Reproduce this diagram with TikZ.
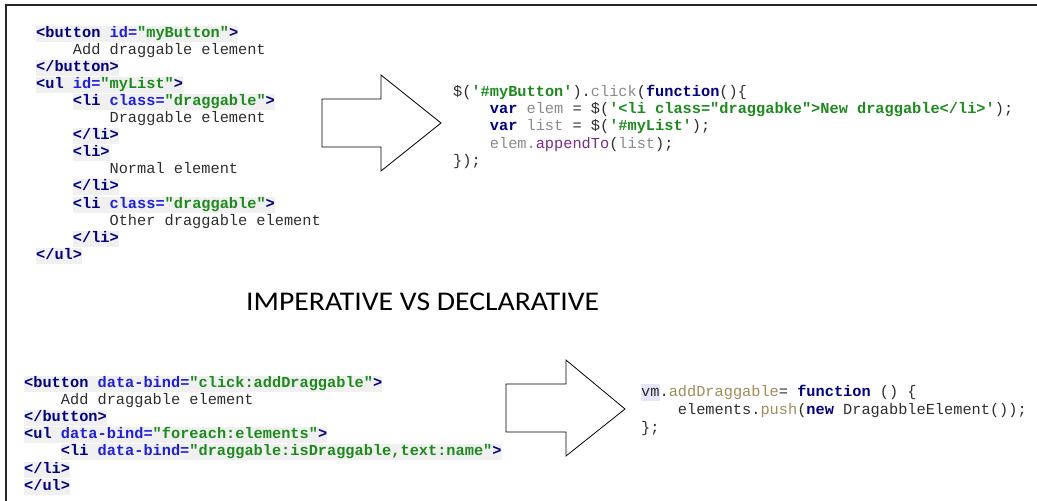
\documentclass[tikz,border=0pt]{standalone}
\usepackage{fontspec}
\setmonofont{Liberation Mono}
\newfontfamily\titlefont{Carlito}
\usetikzlibrary{positioning}
\definecolor{tagblue}{HTML}{000080}
\definecolor{attblue}{HTML}{2020D8}
\definecolor{strgreen}{HTML}{1E8A1E}
\definecolor{plaingray}{HTML}{2E2E2E}
\definecolor{vargray}{HTML}{8A8A8A}
\definecolor{fnpurple}{HTML}{7A2A8A}
\definecolor{memtan}{HTML}{A08C5A}
\definecolor{codebg}{HTML}{F0F0F0}
\definecolor{vmbg}{HTML}{E6E6FA}
\newcommand\mkTag[1]{\textcolor{tagblue}{\bfseries #1}}
\newcommand\mkAtt[1]{\textcolor{attblue}{\bfseries #1}}
\newcommand\mkStr[1]{\textcolor{strgreen}{\bfseries #1}}
\newcommand\mkKw[1]{\textcolor{tagblue}{\bfseries #1}}
\newcommand\mkVar[1]{\textcolor{vargray}{#1}}
\newcommand\mkFn[1]{\textcolor{fnpurple}{#1}}
\newcommand\mkMem[1]{\textcolor{memtan}{#1}}
\newcommand\mkHl[1]{{\setlength{\fboxsep}{0pt}\colorbox{vmbg}{\strut #1}}}
\tikzset{code/.style={anchor=base west, inner sep=0pt, text=plaingray,
                      font=\ttfamily\fontsize{15.3}{17}\selectfont},
         hl/.style={code, fill=codebg, inner ysep=1pt, text height=10.5pt, text depth=3.5pt},
         bigarrow/.style={draw=black, line width=0.8pt, line join=miter},
         frame/.style={draw=black!85, line width=2pt},
        }

\begin{document}
\begin{tikzpicture}[x=1pt,y=-1pt]
        \useasboundingbox (0,0) rectangle (1037,501);
        \draw[frame] (6,501)--(6,5)--(1037,5);

        % imperative markup
        \node[hl](a1)at(36,37){\mkTag{<button} \mkAtt{id=}\mkStr{"myButton"}\mkTag{>}};
        \node[code](a2)at(72.7,54.1){Add draggable element};
        \node[hl](a3)at(36,71.2){\mkTag{</button>}};
        \node[hl](a4)at(36,88.3){\mkTag{<ul} \mkAtt{id=}\mkStr{"myList"}\mkTag{>}};
        \node[hl](a5)at(72.7,105.4){\mkTag{<li} \mkAtt{class=}\mkStr{"draggable"}\mkTag{>}};
        \node[code](a6)at(109.4,122.5){Draggable element};
        \node[hl](a7)at(72.7,139.6){\mkTag{</li>}};
        \node[hl](a8)at(72.7,156.7){\mkTag{<li>}};
        \node[code](a9)at(109.4,173.8){Normal element};
        \node[hl](a10)at(72.7,190.9){\mkTag{</li>}};
        \node[hl](a11)at(72.7,208){\mkTag{<li} \mkAtt{class=}\mkStr{"draggable"}\mkTag{>}};
        \node[code](a12)at(109.4,225.1){Other draggable element};
        \node[hl](a13)at(72.7,242.2){\mkTag{</li>}};
        \node[hl](a14)at(36,259.3){\mkTag{</ul>}};

        % imperative script
        \node[code](b1)at(453,96.7){\$(\mkStr{'\#myButton'}).\mkVar{click}(\mkKw{function}()\{};
        \node[code](b2)at(489.7,113.8){\mkKw{var} \mkVar{elem} = \$(\mkStr{'<li class="draggabke">New draggable</li>'});};
        \node[code](b3)at(489.7,130.9){\mkKw{var} \mkVar{list} = \$(\mkStr{'\#myList'});};
        \node[code](b4)at(489.7,148){\mkVar{elem.}\mkFn{appendTo}(\mkVar{list});};
        \node[code](b5)at(453,165.1){\});};

        \draw[bigarrow](322,99)--(381,99)--(381,75)--(441,123)--(381,171)--(381,147)--(322,147)--cycle;

        \node[anchor=base west, inner sep=0pt, font=\titlefont\fontsize{27}{30}\selectfont](title)at(246,310.7){\scalebox{1.1}[1]{IMPERATIVE VS DECLARATIVE}};

        % declarative markup
        \node[hl](c1)at(24,387){\mkTag{<button} \mkAtt{data-bind=}\mkStr{"click:addDraggable"}\mkTag{>}};
        \node[code](c2)at(60.7,404.2){Add draggable element};
        \node[hl](c3)at(24,421.4){\mkTag{</button>}};
        \node[hl](c4)at(24,438.6){\mkTag{<ul} \mkAtt{data-bind=}\mkStr{"foreach:elements"}\mkTag{>}};
        \node[hl](c5)at(60.7,455.8){\mkTag{<li} \mkAtt{data-bind=}\mkStr{"draggable:isDraggable,text:name"}\mkTag{>}};
        \node[hl](c6)at(24,473){\mkTag{</li>}};
        \node[hl](c7)at(24,490.2){\mkTag{</ul>}};

        % declarative view model
        \node[code](d1)at(641,396){\mkHl{vm}.\mkMem{addDraggable}= \mkKw{function} () \{};
        \node[code](d2)at(677.7,414){elements.\mkMem{push}(\mkKw{new} DragabbleElement());};
        \node[code](d3)at(641,432){\};};

        \draw[bigarrow](506,384)--(566,384)--(566,360)--(625,409)--(566,456)--(566,432)--(506,432)--cycle;
\end{tikzpicture}
\end{document}
